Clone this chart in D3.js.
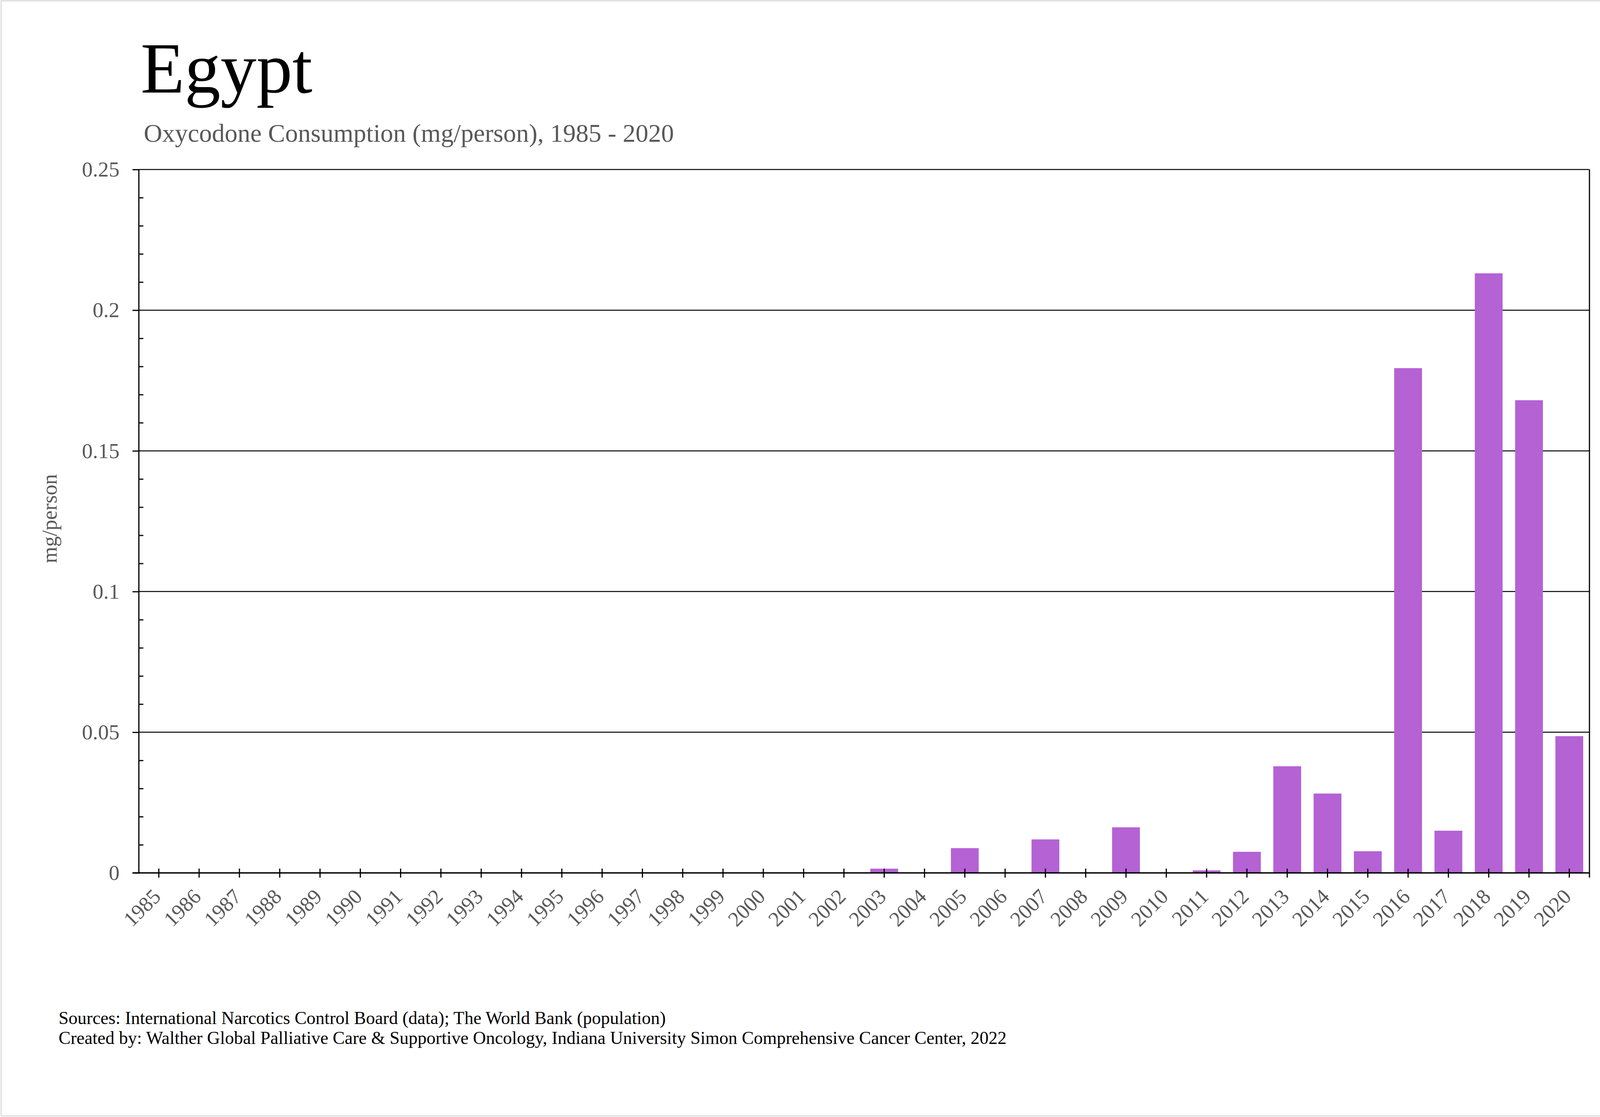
<!DOCTYPE html>
<html>
<head>
<meta charset="utf-8">
<script src="https://cdn.jsdelivr.net/npm/d3@7"></script>
<style>
  html, body { margin: 0; padding: 0; background: #fff; overflow: hidden; }
  svg { display: block; }
  text { font-family: "Liberation Serif", "Times New Roman", serif; }
</style>
</head>
<body>
<svg id="chart" width="4221" height="2860"></svg>
<script>
// data
const years = [
  "1985", "1986", "1987", "1988", "1989", "1990", "1991", "1992", "1993",
  "1994", "1995", "1996", "1997", "1998", "1999", "2000", "2001", "2002",
  "2003", "2004", "2005", "2006", "2007", "2008", "2009", "2010", "2011",
  "2012", "2013", "2014", "2015", "2016", "2017", "2018", "2019", "2020",
];
const mgPerPerson = [
  0, 0, 0, 0, 0, 0, 0, 0, 0,
  0, 0, 0, 0, 0, 0, 0, 0, 0,
  0.0015, 0, 0.0088, 0, 0.0119, 0, 0.0162, 0, 0.0009,
  0.0075, 0.0379, 0.0282, 0.0077, 0.1794, 0.015, 0.2131, 0.168, 0.0486,
];
const yTicks = [0, 0.05, 0.1, 0.15, 0.2, 0.25];
const yMinorTicks = [
  0.01, 0.02, 0.03, 0.04, 0.06, 0.07, 0.08, 0.09, 0.11, 0.12, 0.13, 0.14,
  0.16, 0.17, 0.18, 0.19, 0.21, 0.22, 0.23, 0.24,
];

const title = "Egypt";
const subtitle = "Oxycodone Consumption (mg/person), 1985 - 2020";
const yLabel = "mg/person";
const footer = [
  "Sources: International Narcotics Control Board (data); The World Bank (population)",
  "Created by: Walther Global Palliative Care & Supportive Oncology, Indiana University Simon Comprehensive Cancer Center, 2022",
];

const plotLeft = 355, plotRight = 4069, plotTop = 434, plotBottom = 2235;
const gray = "#595959";
const barColor = "#b462d4";

const svg = d3.select("#chart");

// outer frame
svg.append("rect")
  .attr("x", 3).attr("y", 2)
  .attr("width", 4211).attr("height", 2855)
  .attr("fill", "none")
  .attr("stroke", "#dcdcdc")
  .attr("stroke-width", 3);

const x = d3.scaleBand().domain(years).range([plotLeft, plotRight]).padding(0);
const y = d3.scaleLinear().domain([0, 0.25]).range([plotBottom, plotTop]);

const data = years.map((yr, i) => ({ year: yr, value: mgPerPerson[i] }));

// gridlines
svg.append("g")
  .selectAll("line")
  .data(yTicks.filter((t) => t > 0))
  .join("line")
  .attr("x1", plotLeft).attr("x2", plotRight)
  .attr("y1", (d) => y(d)).attr("y2", (d) => y(d))
  .attr("stroke", "#000")
  .attr("stroke-width", 2.5);

// right border
svg.append("line")
  .attr("x1", plotRight).attr("x2", plotRight)
  .attr("y1", plotTop).attr("y2", plotBottom + 12)
  .attr("stroke", "#000")
  .attr("stroke-width", 3);

// bars
const bw = x.bandwidth();
svg.append("g")
  .selectAll("rect")
  .data(data.filter((d) => d.value > 0))
  .join("rect")
  .attr("x", (d) => x(d.year) + bw * 0.155)
  .attr("width", bw * 0.69)
  .attr("y", (d) => y(d.value))
  .attr("height", (d) => plotBottom - y(d.value))
  .attr("fill", barColor);

// y axis (major ticks outside)
const yAxis = d3.axisLeft(y)
  .tickValues(yTicks)
  .tickSize(16)
  .tickPadding(33)
  .tickFormat((d) => String(d));

const gy = svg.append("g")
  .attr("transform", `translate(${plotLeft},0)`)
  .call(yAxis);
gy.select(".domain").attr("stroke-width", 3);
gy.selectAll(".tick line").attr("stroke-width", 3);
gy.selectAll(".tick text")
  .attr("fill", gray)
  .style("font-size", "55px");

// minor ticks inside
const gyMinor = svg.append("g")
  .attr("transform", `translate(${plotLeft},0)`)
  .call(d3.axisRight(y).tickValues(yMinorTicks).tickSize(12).tickFormat(""));
gyMinor.select(".domain").remove();
gyMinor.selectAll(".tick line").attr("stroke-width", 3);

// x axis
const xAxis = d3.axisBottom(x).tickSizeOuter(0).tickSize(12).tickPadding(0);
const gx = svg.append("g")
  .attr("transform", `translate(0,${plotBottom})`)
  .call(xAxis);
gx.select(".domain")
  .attr("d", `M${plotLeft - 16},0H${plotRight}`)
  .attr("stroke-width", 3.5);
gx.selectAll(".tick line")
  .attr("y1", -11)
  .attr("y2", 12)
  .attr("stroke-width", 3);
gx.selectAll(".tick text")
  .attr("fill", gray)
  .style("font-size", "54px")
  .attr("text-anchor", "end")
  .attr("dy", 0)
  .attr("y", 0)
  .attr("transform", "translate(8,64) rotate(-45)");

// y axis title
svg.append("text")
  .attr("transform", "translate(145,1328) rotate(-90)")
  .attr("text-anchor", "middle")
  .attr("fill", gray)
  .style("font-size", "54px")
  .text(yLabel);

// titles
svg.append("text")
  .attr("x", 360).attr("y", 237)
  .attr("fill", "#000")
  .style("font-size", "184px")
  .text(title);

svg.append("text")
  .attr("x", 368).attr("y", 363)
  .attr("fill", gray)
  .style("font-size", "65.5px")
  .text(subtitle);

// footer
svg.append("g")
  .selectAll("text")
  .data(footer)
  .join("text")
  .attr("x", 150)
  .attr("y", (d, i) => 2622 + i * 51)
  .attr("fill", "#000")
  .style("font-size", "46px")
  .text((d) => d);
</script>
</body>
</html>
